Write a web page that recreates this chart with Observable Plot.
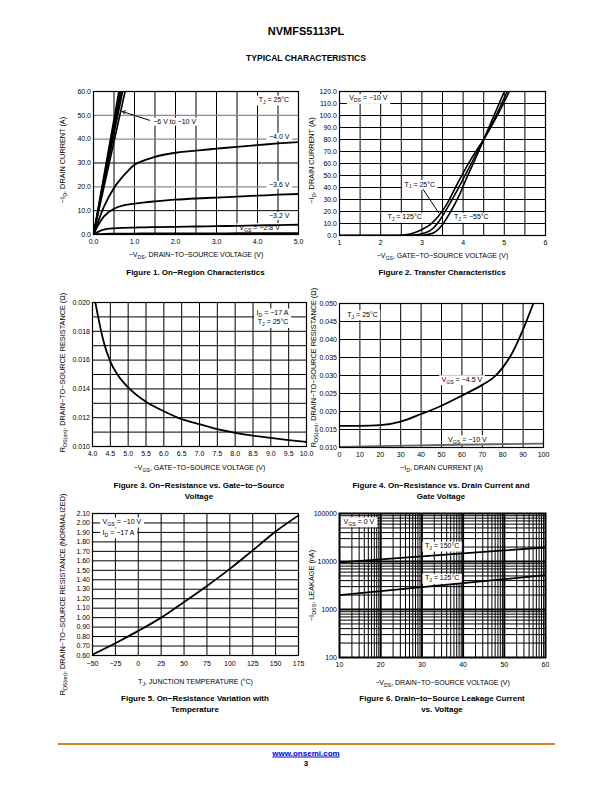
<!DOCTYPE html>
<html><head><meta charset="utf-8">
<script src="https://cdn.jsdelivr.net/npm/d3@7"></script>
<script src="https://cdn.jsdelivr.net/npm/@observablehq/plot@0.6"></script>
<style>
html,body{margin:0;padding:0;background:#fff;}
#page{position:relative;width:612px;height:792px;overflow:hidden;font-family:"Liberation Sans",Arial,Helvetica,sans-serif;color:#000;}
.abs{position:absolute;white-space:nowrap;}
.cap{position:absolute;white-space:nowrap;font-weight:bold;font-size:8px;transform:translate(-50%,-50%);}
</style></head><body><div id="page"></div>
<script>
// ---------------- DATA ----------------
// Figure 1: On-Region Characteristics
const f1HighVgsNames = ["−10 V", "−9 V", "−8 V", "−7 V", "−6 V"];
const f1HighVdsAtTop = [0.62, 0.65, 0.68, 0.71, 0.77];   // V_DS where each line reaches 60 A
const f1TopCurrent = 60;
const f1Vds = [0, 0.1, 0.25, 0.5, 0.75, 1.0, 1.25, 1.5, 2.0, 2.5, 3.0, 3.5, 4.0, 4.5, 5.0];
const f1Id_4p0 = [0, 4.8, 11.5, 19.5, 25.0, 29.3, 31.2, 32.6, 34.3, 35.2, 36.0, 36.8, 37.5, 38.2, 38.8];
const f1Id_3p6 = [0, 3.5, 7.5, 10.8, 12.3, 13.0, 13.5, 13.9, 14.6, 15.1, 15.5, 15.9, 16.3, 16.7, 17.0];
const f1Id_3p2 = [0, 1.0, 2.0, 2.6, 2.8, 2.9, 3.0, 3.1, 3.2, 3.35, 3.5, 3.65, 3.8, 3.95, 4.1];
const f1Id_2p8 = [0, 0.15, 0.28, 0.35, 0.38, 0.4, 0.42, 0.43, 0.45, 0.47, 0.5, 0.52, 0.54, 0.56, 0.6];
const f1XTicks = [0, 1, 2, 3, 4, 5];
const f1XTickLabels = ["0.0", "1.0", "2.0", "3.0", "4.0", "5.0"];
const f1YTicks = [0, 10, 20, 30, 40, 50, 60];
const f1YTickLabels = ["0.0", "10.0", "20.0", "30.0", "40.0", "50.0", "60.0"];
const f1GridX = [0.5, 1, 1.5, 2, 2.5, 3, 3.5, 4, 4.5];
const f1GridYDark = [10, 30];
const f1GridYGray = [20, 40, 50];
const f1Notes = ["T_{J} = 25°C", "−6 V to −10 V", "−4.0 V", "−3.6 V", "−3.2 V", "V_{GS} = −2.8 V"];
const f1NoteX = [4.4, 1.98, 4.53, 4.53, 4.53, 4.05];
const f1NoteY = [56.5, 47.2, 40.9, 20.7, 7.7, 3.0];
const f1ArrowFrom = [1.37, 47.9];
const f1ArrowTo = [0.70, 51.6];

// Figure 2: Transfer Characteristics
const f2Vgs_125 = [1, 2.4, 2.6, 2.8, 3.0, 3.2, 3.4, 3.6, 3.8, 4.0, 4.2, 4.5, 4.8, 5.12];
const f2Id_125 = [0, 0, 0.5, 2, 5, 9, 16, 26, 39, 52, 64, 80, 98, 120];
const f2Vgs_25 = [1, 2.6, 2.8, 3.0, 3.2, 3.4, 3.6, 3.8, 4.0, 4.2, 4.5, 4.8, 5.07];
const f2Id_25 = [0, 0, 0.4, 1.5, 4, 11, 22, 34, 47, 60, 80, 100, 120];
const f2Vgs_m55 = [1, 2.9, 3.1, 3.3, 3.5, 3.7, 3.9, 4.1, 4.3, 4.5, 4.8, 5.0];
const f2Id_m55 = [0, 0, 0.5, 2.5, 9, 20, 33, 49, 64, 80, 104, 120];
const f2XTicks = [1, 2, 3, 4, 5, 6];
const f2XTickLabels = ["1", "2", "3", "4", "5", "6"];
const f2YTicks = [0, 10, 20, 30, 40, 50, 60, 70, 80, 90, 100, 110, 120];
const f2YTickLabels = ["0.0", "10.0", "20.0", "30.0", "40.0", "50.0", "60.0", "70.0", "80.0", "90.0", "100.0", "110.0", "120.0"];
const f2GridX = [1.5, 2, 2.5, 3, 3.5, 4, 4.5, 5, 5.5];
const f2GridY = [10, 20, 30, 40, 50, 60, 70, 80, 90, 100, 110];
const f2Notes = ["V_{DS} = −10 V", "T_{J} = 25°C", "T_{J} = 125°C", "T_{J} = −55°C"];
const f2NoteX = [1.7, 2.95, 2.58, 4.2];
const f2NoteY = [114.4, 42.7, 15.3, 15.3];
const f2PointerFrom = [3.03, 38.5];
const f2PointerTo = [3.41, 18.7];

// Figure 3: On-Resistance vs Gate-to-Source Voltage
const f3Vgs = [4.08, 4.2, 4.3, 4.5, 4.7, 5.0, 5.5, 6.0, 6.5, 7.0, 7.5, 8.0, 8.5, 9.0, 9.5, 10.0];
const f3Rds = [0.0200, 0.0185, 0.0174, 0.0159, 0.0150, 0.0141, 0.0131, 0.01245, 0.0119, 0.01155, 0.0112, 0.01095, 0.01075, 0.0106, 0.01045, 0.01032];
const f3XTicks = [4, 4.5, 5, 5.5, 6, 6.5, 7, 7.5, 8, 8.5, 9, 9.5, 10];
const f3XTickLabels = ["4.0", "4.5", "5.0", "5.5", "6.0", "6.5", "7.0", "7.5", "8.0", "8.5", "9.0", "9.5", "10.0"];
const f3YTicks = [0.010, 0.012, 0.014, 0.016, 0.018, 0.020];
const f3YTickLabels = ["0.010", "0.012", "0.014", "0.016", "0.018", "0.020"];
const f3GridX = [4.5, 5, 5.5, 6, 6.5, 7, 7.5, 8, 8.5, 9, 9.5];
const f3GridY = [0.011, 0.012, 0.013, 0.014, 0.015, 0.016, 0.017, 0.018, 0.019];
const f3Notes = ["I_{D} = −17 A", "T_{J} = 25°C"];
const f3NoteX = [9.49, 9.49];
const f3NoteY = [0.01929, 0.01863];

// Figure 4: On-Resistance vs Drain Current and Gate Voltage
const f4Id_4p5 = [0, 10, 20, 30, 40, 50, 60, 70, 75, 80, 85, 90, 95];
const f4R_4p5 = [0.0160, 0.0160, 0.0162, 0.0172, 0.0193, 0.0216, 0.0244, 0.0274, 0.0292, 0.0322, 0.0366, 0.0428, 0.0500];
const f4Id_10 = [0, 25, 50, 75, 100];
const f4R_10 = [0.0102, 0.01045, 0.0107, 0.0109, 0.0111];
const f4XTicks = [0, 10, 20, 30, 40, 50, 60, 70, 80, 90, 100];
const f4XTickLabels = ["0", "10", "20", "30", "40", "50", "60", "70", "80", "90", "100"];
const f4YTicks = [0.010, 0.015, 0.020, 0.025, 0.030, 0.035, 0.040, 0.045, 0.050];
const f4YTickLabels = ["0.010", "0.015", "0.020", "0.025", "0.030", "0.035", "0.040", "0.045", "0.050"];
const f4GridX = [10, 20, 30, 40, 50, 60, 70, 80, 90];
const f4GridY = [0.015, 0.020, 0.025, 0.030, 0.035, 0.040, 0.045];
const f4Notes = ["T_{J} = 25°C", "V_{GS} = −4.5 V", "V_{GS} = −10 V"];
const f4NoteX = [11.3, 60, 62.7];
const f4NoteY = [0.0470, 0.0289, 0.0122];

// Figure 5: On-Resistance Variation with Temperature
const f5Tj = [-50, -25, 0, 25, 50, 75, 100, 125, 150, 175];
const f5R = [0.61, 0.73, 0.86, 1.00, 1.165, 1.335, 1.515, 1.71, 1.91, 2.08];
const f5XTicks = [-50, -25, 0, 25, 50, 75, 100, 125, 150, 175];
const f5XTickLabels = ["−50", "−25", "0", "25", "50", "75", "100", "125", "150", "175"];
const f5YTicks = [0.6, 0.7, 0.8, 0.9, 1.0, 1.1, 1.2, 1.3, 1.4, 1.5, 1.6, 1.7, 1.8, 1.9, 2.0, 2.1];
const f5YTickLabels = ["0.60", "0.70", "0.80", "0.90", "1.00", "1.10", "1.20", "1.30", "1.40", "1.50", "1.60", "1.70", "1.80", "1.90", "2.00", "2.10"];
const f5GridX = [-25, 0, 25, 50, 75, 100, 125, 150];
const f5GridY = [0.7, 0.8, 0.9, 1.0, 1.1, 1.2, 1.3, 1.4, 1.5, 1.6, 1.7, 1.8, 1.9, 2.0];
const f5Notes = ["V_{GS} = −10 V", "I_{D} = −17 A"];
const f5NoteX = [-39, -39];
const f5NoteY = [2.012, 1.899];

// Figure 6: Drain-to-Source Leakage Current vs Voltage
const f6Vds = [10, 20, 30, 40, 50, 60];
const f6I_150 = [9600, 11100, 12800, 14800, 17000, 19600];
const f6I_125 = [2000, 2420, 2920, 3530, 4280, 5200];
const f6XTicks = [10, 20, 30, 40, 50, 60];
const f6XTickLabels = ["10", "20", "30", "40", "50", "60"];
const f6YTicks = [100, 1000, 10000, 100000];
const f6YTickLabels = ["100", "1000", "10000", "100000"];
const f6GridXMajor = [20, 30, 40, 50];
const f6GridXSegments = [10, 20, 30, 40, 50];
const f6GridXOffsets = [3.01, 4.77, 6.02, 6.99, 7.78, 8.45, 9.03, 9.54];
const f6GridYMajor = [1000, 10000];
const f6GridYMinor = [200, 300, 400, 500, 600, 700, 800, 900,
  2000, 3000, 4000, 5000, 6000, 7000, 8000, 9000,
  20000, 30000, 40000, 50000, 60000, 70000, 80000, 90000];
const f6Notes = ["V_{GS} = 0 V", "T_{J} = 150°C", "T_{J} = 125°C"];
const f6NoteX = [11, 34.9, 34.9];
const f6NoteY = [68000, 21200, 4500];

// ---------------- RENDER ----------------
const FONT = '"Liberation Sans", Arial, Helvetica, sans-serif';
const NS = "http://www.w3.org/2000/svg";
const NOTE_FILL = "#010101";
const page = document.getElementById("page");
const zip = (xs, ys) => xs.map((x, i) => ({x, y: ys[i]}));
const notes = (t, xs, ys) => t.map((s, i) => ({t: s, x: xs[i], y: ys[i]}));
const fmt = (ticks, labels) => d => labels[ticks.findIndex(v => Math.abs(v - d) < 1e-9)];

function html(cls, text, x, y, style) {
  const d = document.createElement("div");
  d.className = cls; d.textContent = text;
  d.style.left = x + "px"; d.style.top = y + "px";
  if (style) Object.assign(d.style, style);
  page.appendChild(d);
  return d;
}

// turn "_{..}" into subscript tspans
function subs(svg) {
  svg.querySelectorAll("text").forEach(t => {
    const s = t.textContent;
    if (!s.includes("_{")) return;
    const fs = parseFloat(getComputedStyle(t).fontSize) || 7;
    t.textContent = "";
    let sub = false;
    s.split(/(_\{[^}]*\})/).forEach(p => {
      if (!p) return;
      const ts = document.createElementNS(NS, "tspan");
      if (p.startsWith("_{")) {
        ts.textContent = p.slice(2, -1);
        ts.setAttribute("font-size", (fs * 0.74).toFixed(2));
        ts.setAttribute("dy", (fs * 0.28).toFixed(2));
        sub = true;
      } else {
        ts.textContent = p;
        if (sub) { ts.setAttribute("dy", (-fs * 0.28).toFixed(2)); sub = false; }
      }
      t.appendChild(ts);
    });
  });
}

// white rectangular boxes behind annotation texts
function boxes(svg) {
  svg.querySelectorAll(`g[fill="${NOTE_FILL}"] text`).forEach(t => {
    const b = t.getBBox();
    const r = document.createElementNS(NS, "rect");
    r.setAttribute("x", b.x - 2.5);
    r.setAttribute("y", b.y - 0.5);
    r.setAttribute("width", b.width + 5);
    r.setAttribute("height", b.height + 1);
    r.setAttribute("fill", "#fff");
    const tr = t.getAttribute("transform");
    if (tr) r.setAttribute("transform", tr);
    t.parentNode.insertBefore(r, t);
  });
}

function noteMark(data, anchor) {
  return Plot.text(data, {x: "x", y: "y", text: "t", fontSize: 7, fill: NOTE_FILL, textAnchor: anchor || "middle"});
}

function fig(o) {
  const [x0, y0, x1, y1] = o.box, [fx0, fy0, fx1, fy1] = o.frame;
  const svg = Plot.plot({
    width: x1 - x0, height: y1 - y0,
    marginLeft: fx0 - x0, marginTop: fy0 - y0, marginRight: x1 - fx1, marginBottom: y1 - fy1,
    style: {fontFamily: FONT, fontSize: "7px", background: "transparent", overflow: "visible", color: "#000"},
    x: o.x, y: o.y,
    marks: [
      ...o.marks,
      Plot.frame({stroke: "#000", strokeWidth: o.frameWidth || 1.2}),
      Plot.axisX(o.xTicks, {tickSize: 0, tickPadding: o.xPad, tickFormat: fmt(o.xTicks, o.xTickLabels), fontSize: 7, label: null}),
      Plot.axisY(o.yTicks, {tickSize: 0, tickPadding: 2.5, tickFormat: fmt(o.yTicks, o.yTickLabels), fontSize: 7, label: null}),
      Plot.text([o.xLabel], {text: d => d, frameAnchor: "bottom", dy: o.xLabelDy, textAnchor: "middle", lineAnchor: "middle", fontSize: 7, fill: "#000"}),
      Plot.text([o.yLabel], {text: d => d, frameAnchor: "left", dx: o.yLabelDx, dy: o.yLabelDy || 0, rotate: -90, textAnchor: "middle", lineAnchor: "middle", fontSize: 7.3, fill: "#000"})
    ]
  });
  svg.style.position = "absolute";
  svg.style.left = x0 + "px";
  svg.style.top = y0 + "px";
  page.appendChild(svg);
  subs(svg);
  boxes(svg);
  const cx = (fx0 + fx1) / 2;
  o.caption.forEach((line, i) => html("cap", line, cx, o.captionY + i * 11));
}

// Header
html("abs", "NVMFS5113PL", 306, 31, {fontWeight: "bold", fontSize: "11px", transform: "translate(-50%,-50%)"});
html("abs", "TYPICAL CHARACTERISTICS", 306, 57.5, {fontWeight: "bold", fontSize: "8.5px", transform: "translate(-50%,-50%)"});

// Figure 1
const f1High = f1HighVgsNames.flatMap((n, i) => [{s: n, x: 0, y: 0}, {s: n, x: f1HighVdsAtTop[i], y: f1TopCurrent}]);
const f1Curves = [
  ...zip(f1Vds, f1Id_4p0).map(d => ({...d, s: "−4.0 V"})),
  ...zip(f1Vds, f1Id_3p6).map(d => ({...d, s: "−3.6 V"})),
  ...zip(f1Vds, f1Id_3p2).map(d => ({...d, s: "−3.2 V"})),
  ...zip(f1Vds, f1Id_2p8).map(d => ({...d, s: "−2.8 V"}))
];
fig({
  box: [40, 82, 310, 262], frame: [93, 91, 298, 234],
  x: {domain: [0, 5]}, y: {domain: [0, 60]},
  xTicks: f1XTicks, xTickLabels: f1XTickLabels, yTicks: f1YTicks, yTickLabels: f1YTickLabels, xPad: 4.5,
  xLabel: "−V_{DS}, DRAIN−TO−SOURCE VOLTAGE (V)", xLabelDy: 20.5,
  yLabel: "−I_{D}, DRAIN CURRENT (A)", yLabelDx: -31, yLabelDy: -3,
  caption: ["Figure 1. On−Region Characteristics"], captionY: 272,
  marks: [
    Plot.ruleX(f1GridX, {stroke: "#000", strokeWidth: 1}),
    Plot.ruleY(f1GridYDark, {stroke: "#000", strokeWidth: 1}),
    Plot.ruleY(f1GridYGray, {stroke: "#8c8c8c", strokeWidth: 1.3}),
    noteMark(notes(f1Notes, f1NoteX, f1NoteY)),
    Plot.line(f1High, {x: "x", y: "y", z: "s", stroke: "#000", strokeWidth: 1.6, clip: true}),
    Plot.line(f1Curves, {x: "x", y: "y", z: "s", stroke: "#000", strokeWidth: 1.8, curve: "monotone-x", clip: true}),
    Plot.arrow([{x1: f1ArrowFrom[0], y1: f1ArrowFrom[1], x2: f1ArrowTo[0], y2: f1ArrowTo[1]}],
      {x1: "x1", y1: "y1", x2: "x2", y2: "y2", stroke: "#000", strokeWidth: 1, headLength: 5})
  ]
});

// Figure 2
const f2Curves = [
  ...zip(f2Vgs_125, f2Id_125).map(d => ({...d, s: "125"})),
  ...zip(f2Vgs_25, f2Id_25).map(d => ({...d, s: "25"})),
  ...zip(f2Vgs_m55, f2Id_m55).map(d => ({...d, s: "-55"}))
];
fig({
  box: [300, 82, 560, 262], frame: [339, 91, 545, 235],
  x: {domain: [1, 6]}, y: {domain: [0, 120]},
  xTicks: f2XTicks, xTickLabels: f2XTickLabels, yTicks: f2YTicks, yTickLabels: f2YTickLabels, xPad: 4.5,
  xLabel: "−V_{GS}, GATE−TO−SOURCE VOLTAGE (V)", xLabelDy: 20,
  yLabel: "−I_{D}, DRAIN CURRENT (A)", yLabelDx: -28, yLabelDy: -3,
  caption: ["Figure 2. Transfer Characteristics"], captionY: 272,
  marks: [
    Plot.ruleX(f2GridX, {stroke: "#000", strokeWidth: 1}),
    Plot.ruleY(f2GridY, {stroke: "#000", strokeWidth: 1}),
    noteMark(notes(f2Notes, f2NoteX, f2NoteY)),
    Plot.line(f2Curves, {x: "x", y: "y", z: "s", stroke: "#000", strokeWidth: 1.6, curve: "monotone-x", clip: true}),
    Plot.link([{x1: f2PointerFrom[0], y1: f2PointerFrom[1], x2: f2PointerTo[0], y2: f2PointerTo[1]}],
      {x1: "x1", y1: "y1", x2: "x2", y2: "y2", stroke: "#000", strokeWidth: 1})
  ]
});

// Figure 3
fig({
  box: [40, 292, 315, 476], frame: [92, 302, 306, 446],
  x: {domain: [4, 10]}, y: {domain: [0.010, 0.020]},
  xTicks: f3XTicks, xTickLabels: f3XTickLabels, yTicks: f3YTicks, yTickLabels: f3YTickLabels, xPad: 5,
  xLabel: "−V_{GS}, GATE−TO−SOURCE VOLTAGE (V)", xLabelDy: 21.5,
  yLabel: "R_{DS(on)}, DRAIN−TO−SOURCE RESISTANCE (Ω)", yLabelDx: -30, yLabelDy: -2,
  caption: ["Figure 3. On−Resistance vs. Gate−to−Source", "Voltage"], captionY: 484.5,
  marks: [
    Plot.ruleX(f3GridX, {stroke: "#000", strokeWidth: 1}),
    Plot.ruleY(f3GridY, {stroke: "#000", strokeWidth: 1}),
    noteMark(notes(f3Notes, f3NoteX, f3NoteY), "end"),
    Plot.line(zip(f3Vgs, f3Rds), {x: "x", y: "y", stroke: "#000", strokeWidth: 1.8, curve: "monotone-x", clip: true})
  ]
});

// Figure 4
fig({
  box: [300, 292, 560, 476], frame: [339, 303, 543, 447],
  x: {domain: [0, 100]}, y: {domain: [0.010, 0.050]},
  xTicks: f4XTicks, xTickLabels: f4XTickLabels, yTicks: f4YTicks, yTickLabels: f4YTickLabels, xPad: 4.5,
  xLabel: "−I_{D}, DRAIN CURRENT (A)", xLabelDy: 20,
  yLabel: "R_{DS(on)}, DRAIN−TO−SOURCE RESISTANCE (Ω)", yLabelDx: -26, yLabelDy: -8,
  caption: ["Figure 4. On−Resistance vs. Drain Current and", "Gate Voltage"], captionY: 484.5,
  marks: [
    Plot.ruleX(f4GridX, {stroke: "#000", strokeWidth: 1}),
    Plot.ruleY(f4GridY, {stroke: "#000", strokeWidth: 1}),
    noteMark(notes(f4Notes, f4NoteX, f4NoteY)),
    Plot.line(zip(f4Id_10, f4R_10), {x: "x", y: "y", stroke: "#666", strokeWidth: 1.8, curve: "monotone-x", clip: true}),
    Plot.line(zip(f4Id_4p5, f4R_4p5), {x: "x", y: "y", stroke: "#000", strokeWidth: 1.8, curve: "monotone-x", clip: true})
  ]
});

// Figure 5
fig({
  box: [40, 503, 310, 688], frame: [92, 513, 298, 655],
  x: {domain: [-50, 175]}, y: {domain: [0.6, 2.1]},
  xTicks: f5XTicks, xTickLabels: f5XTickLabels, yTicks: f5YTicks, yTickLabels: f5YTickLabels, xPad: 5.5,
  xLabel: "T_{J}, JUNCTION TEMPERATURE (°C)", xLabelDy: 26.5,
  yLabel: "R_{DS(on)}, DRAIN−TO−SOURCE RESISTANCE (NORMALIZED)", yLabelDx: -30, yLabelDy: 10,
  caption: ["Figure 5. On−Resistance Variation with", "Temperature"], captionY: 697.5,
  marks: [
    Plot.ruleX(f5GridX, {stroke: "#000", strokeWidth: 1}),
    Plot.ruleY(f5GridY, {stroke: "#000", strokeWidth: 1}),
    noteMark(notes(f5Notes, f5NoteX, f5NoteY), "start"),
    Plot.line(zip(f5Tj, f5R), {x: "x", y: "y", stroke: "#000", strokeWidth: 1.8, curve: "monotone-x", clip: true})
  ]
});

// Figure 6
const f6GridXMinor = f6GridXSegments.flatMap(s => f6GridXOffsets.map(o => s + o));
const f6Curves = [
  ...zip(f6Vds, f6I_150).map(d => ({...d, s: "150"})),
  ...zip(f6Vds, f6I_125).map(d => ({...d, s: "125"}))
];
fig({
  box: [300, 503, 560, 688], frame: [339, 513, 545, 657],
  x: {domain: [10, 60]}, y: {type: "log", domain: [100, 100000]},
  xTicks: f6XTicks, xTickLabels: f6XTickLabels, yTicks: f6YTicks, yTickLabels: f6YTickLabels, xPad: 4.5,
  xLabel: "−V_{DS}, DRAIN−TO−SOURCE VOLTAGE (V)", xLabelDy: 25,
  yLabel: "−I_{DSS}, LEAKAGE (nA)", yLabelDx: -28,
  caption: ["Figure 6. Drain−to−Source Leakage Current", "vs. Voltage"], captionY: 697.5,
  frameWidth: 2,
  marks: [
    Plot.ruleX(f6GridXMinor, {stroke: "#000", strokeWidth: 1}),
    Plot.ruleY(f6GridYMinor, {stroke: "#000", strokeWidth: 1}),
    Plot.ruleX(f6GridXMajor, {stroke: "#000", strokeWidth: 2}),
    Plot.ruleY(f6GridYMajor, {stroke: "#000", strokeWidth: 2}),
    noteMark(notes(f6Notes.slice(1), f6NoteX.slice(1), f6NoteY.slice(1))),
    noteMark(notes(f6Notes.slice(0, 1), f6NoteX.slice(0, 1), f6NoteY.slice(0, 1)), "start"),
    Plot.line(f6Curves, {x: "x", y: "y", z: "s", stroke: "#000", strokeWidth: 1.8, clip: true})
  ]
});

// Footer
const rule = document.createElement("div");
Object.assign(rule.style, {position: "absolute", left: "58px", top: "743px", width: "497px", height: "2px", background: "#d9822b"});
page.appendChild(rule);
html("abs", "www.onsemi.com", 306, 752.5, {fontWeight: "bold", fontSize: "8px", color: "#0000ee", textDecoration: "underline", transform: "translate(-50%,-50%)"});
html("abs", "3", 306, 763, {fontWeight: "bold", fontSize: "8px", transform: "translate(-50%,-50%)"});
</script></body></html>
